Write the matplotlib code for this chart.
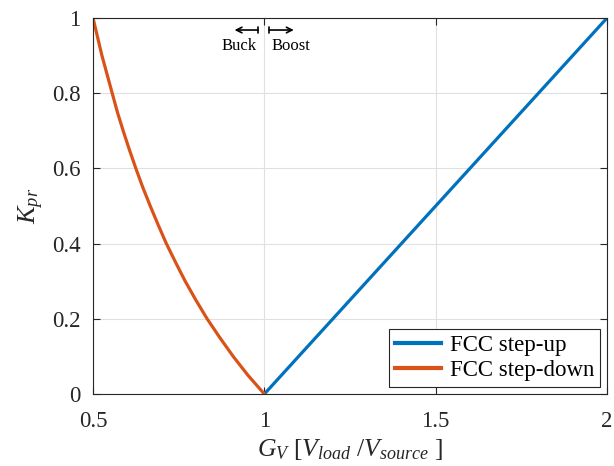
import matplotlib
matplotlib.use("Agg")
import matplotlib.pyplot as plt

plt.rcParams['font.family'] = ['Liberation Serif', 'DejaVu Serif']
plt.rcParams['mathtext.fontset'] = 'custom'
plt.rcParams['mathtext.rm'] = 'Liberation Serif'
plt.rcParams['mathtext.it'] = 'Liberation Serif:italic'

# Data
gv_up = [1.0, 1.5, 2.0]
k_up = [0.0, 0.5, 1.0]

gv_down = [0.5, 0.513, 0.526, 0.541, 0.556, 0.571, 0.588, 0.606, 0.625, 0.645,
           0.667, 0.69, 0.714, 0.741, 0.769, 0.8, 0.833, 0.87, 0.909, 0.952, 1.0]
k_down = [1.0, 0.95, 0.9, 0.85, 0.8, 0.75, 0.7, 0.65, 0.6, 0.55,
          0.5, 0.45, 0.4, 0.35, 0.3, 0.25, 0.2, 0.15, 0.1, 0.05, 0.0]

xticks = [0.5, 1.0, 1.5, 2.0]
xticklabels = ['0.5', '1', '1.5', '2']
yticks = [0, 0.2, 0.4, 0.6, 0.8, 1.0]
yticklabels = ['0', '0.2', '0.4', '0.6', '0.8', '1']
series_names = ['FCC step-up', 'FCC step-down']

blue = '#0072BD'
orange = '#D95319'
axcol = '#262626'

fig = plt.figure(figsize=(6.14, 4.66), dpi=100)
ax = fig.add_axes([0.1515, 0.1545, 0.8371, 0.8069])

ax.plot(gv_up, k_up, color=blue, lw=2.3, label=series_names[0])
ax.plot(gv_down, k_down, color=orange, lw=2.3, label=series_names[1])

ax.set_xlim(0.5, 2.0)
ax.set_ylim(0, 1)
ax.set_xticks(xticks)
ax.set_xticklabels(xticklabels)
ax.set_yticks(yticks)
ax.set_yticklabels(yticklabels)
ax.grid(True, color='#e0e0e0', lw=0.8)
ax.set_axisbelow(True)
for s in ax.spines.values():
    s.set_color(axcol)
    s.set_linewidth(0.8)
ax.tick_params(direction='in', length=5, width=0.8, colors=axcol, labelsize=16.5,
               top=True, right=True)
ax.tick_params(axis='x', pad=12)
ax.tick_params(axis='y', pad=9)
for lbl in ax.get_xticklabels() + ax.get_yticklabels():
    lbl.set_color(axcol)

ax.set_xlabel(r'$G_V\ [V_{load}\ /V_{source}\ ]$', fontsize=18.5, color=axcol, labelpad=4)
ax.set_ylabel(r'$K_{pr}$', fontsize=19, color=axcol, labelpad=4)

leg = ax.legend(loc='lower right', fontsize=16.5, frameon=True, fancybox=False,
                edgecolor=axcol, framealpha=1, borderaxespad=0.3,
                handlelength=2.0, handletextpad=0.4, borderpad=0.25, labelspacing=0.2)
leg.get_frame().set_linewidth(0.8)
for h in leg.get_lines():
    h.set_linewidth(3.0)

# Buck / Boost annotations
ax.annotate('', xy=(0.982, 0.968), xytext=(0.913, 0.968),
            arrowprops=dict(arrowstyle='<-[, widthB=0.25, lengthB=0', color='black',
                            lw=1.2, shrinkA=0, shrinkB=0))
ax.annotate('', xy=(1.086, 0.968), xytext=(1.014, 0.968),
            arrowprops=dict(arrowstyle=']->, widthA=0.25, lengthA=0', color='black',
                            lw=1.2, shrinkA=0, shrinkB=0))
ax.text(0.926, 0.925, 'Buck', ha='center', va='center', fontsize=12, color='black')
ax.text(1.078, 0.925, 'Boost', ha='center', va='center', fontsize=12, color='black')

fig.savefig('out.png', dpi=100)
